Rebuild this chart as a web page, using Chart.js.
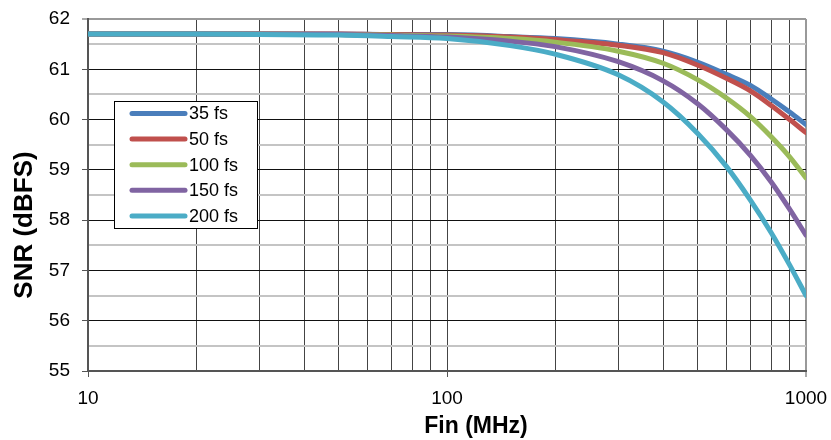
<!DOCTYPE html>
<html>
<head>
<meta charset="utf-8">
<title>SNR vs Fin</title>
<script src="https://cdn.jsdelivr.net/npm/chart.js@4.4.1/dist/chart.umd.min.js"></script>
<style>
  html, body { margin: 0; padding: 0; background: #fff; }
  #wrap { width: 831px; height: 440px; }
</style>
</head>
<body>
<div id="wrap"><canvas id="snr-chart" width="831" height="440"></canvas></div>
<script>
// input frequency (MHz)
const finMHz = [10, 20, 30, 50, 70, 100, 150, 200, 300, 400, 500, 600, 700, 800, 900, 1000];

// SNR (dBFS) per clock jitter
const snr35fs  = [61.7, 61.7, 61.7, 61.7, 61.69, 61.69, 61.65, 61.61, 61.5, 61.36, 61.14, 60.9, 60.68, 60.41, 60.15, 59.9];
const snr50fs  = [61.7, 61.7, 61.7, 61.7, 61.69, 61.68, 61.64, 61.59, 61.48, 61.33, 61.08, 60.82, 60.57, 60.28, 60.0, 59.74];
const snr100fs = [61.7, 61.7, 61.7, 61.69, 61.68, 61.66, 61.61, 61.54, 61.36, 61.12, 60.79, 60.43, 60.06, 59.66, 59.26, 58.84];
const snr150fs = [61.7, 61.7, 61.7, 61.69, 61.67, 61.64, 61.56, 61.45, 61.15, 60.77, 60.31, 59.8, 59.29, 58.76, 58.22, 57.7];
const snr200fs = [61.7, 61.7, 61.69, 61.68, 61.65, 61.61, 61.47, 61.3, 60.89, 60.35, 59.72, 59.07, 58.4, 57.75, 57.11, 56.5];

const seriesLabels = ['35 fs', '50 fs', '100 fs', '150 fs', '200 fs'];
const seriesColors = ['#4A7EBB', '#C0504D', '#9BBB59', '#8064A2', '#4BACC6'];
const seriesValues = [snr35fs, snr50fs, snr100fs, snr150fs, snr200fs];

const xTickValues = [10, 20, 30, 40, 50, 60, 70, 80, 90, 100, 200, 300, 400, 500, 600, 700, 800, 900, 1000];
const xTickLabels = [10, 100, 1000];
const yMin = 55, yMax = 62;
const xTitle = 'Fin (MHz)';
const yTitle = 'SNR (dBFS)';

const FONT = "'Liberation Sans', Arial, sans-serif";

// legend box and axis titles, placed where the original has them
const extras = {
    id: 'extras',
    afterDatasetsDraw(chart) {
        const ctx = chart.ctx;
        ctx.save();
        ctx.fillStyle = '#fff';
        ctx.fillRect(114, 101, 143, 127);
        ctx.strokeStyle = '#000';
        ctx.lineWidth = 1;
        ctx.strokeRect(114.5, 101.5, 143, 127);
        ctx.font = '18px ' + FONT;
        ctx.textBaseline = 'middle';
        ctx.lineCap = 'round';
        chart.data.datasets.forEach((ds, i) => {
            const y = 113.5 + i * 25.6;
            ctx.strokeStyle = ds.borderColor;
            ctx.lineWidth = 5;
            ctx.beginPath();
            ctx.moveTo(132, y);
            ctx.lineTo(185, y);
            ctx.stroke();
            ctx.fillStyle = '#000';
            ctx.fillText(ds.label, 189, y + 1);
        });

        ctx.fillStyle = '#000';
        ctx.textAlign = 'center';
        ctx.font = 'bold 23px ' + FONT;
        ctx.fillText(xTitle, 476, 427);

        ctx.translate(24, 225);
        ctx.rotate(-Math.PI / 2);
        ctx.font = 'bold 26px ' + FONT;
        ctx.fillText(yTitle, 0, 1);
        ctx.restore();
    }
};

const datasets = seriesLabels.map((label, i) => ({
    label: label,
    data: finMHz.map((f, j) => ({ x: f, y: seriesValues[i][j] })),
    borderColor: seriesColors[i],
    backgroundColor: seriesColors[i],
    borderWidth: 5,
    borderCapStyle: 'round',
    pointRadius: 0,
    cubicInterpolationMode: 'monotone',
    order: seriesLabels.length - i,
    fill: false
}));

new Chart(document.getElementById('snr-chart').getContext('2d'), {
    type: 'line',
    data: { datasets: datasets },
    plugins: [extras],
    options: {
        responsive: false,
        animation: false,
        layout: { padding: { left: 0, top: 19, right: 25, bottom: 0 } },
        plugins: {
            legend: { display: false },
            tooltip: { enabled: false }
        },
        scales: {
            x: {
                type: 'logarithmic',
                min: 10,
                max: 1000,
                afterBuildTicks: (scale) => {
                    scale.ticks = xTickValues.map(v => ({ value: v }));
                },
                afterFit: (scale) => {
                    scale.height = 69;
                    scale.paddingLeft = 0;
                    scale.paddingRight = 0;
                },
                ticks: {
                    autoSkip: false,
                    maxRotation: 0,
                    padding: 10,
                    color: '#000',
                    font: { family: FONT, size: 19 },
                    callback: (value) => xTickLabels.includes(value) ? String(value) : ''
                },
                grid: {
                    tickLength: 6,
                    color: (c) => c.tick && c.tick.value === 1000 ? '#999' : '#444',
                    lineWidth: (c) => c.tick && c.tick.value === 1000 ? 2 : 1,
                    tickColor: (c) => c.tick && xTickLabels.includes(c.tick.value) ? '#555' : 'rgba(0,0,0,0)',
                    tickWidth: 1
                },
                border: { display: true, color: '#555', width: 2 },
                title: { display: false }
            },
            y: {
                min: yMin,
                max: yMax,
                afterBuildTicks: (scale) => {
                    const t = [];
                    for (let v = yMin; v <= yMax + 1e-9; v += 0.5) t.push({ value: v });
                    scale.ticks = t;
                },
                afterFit: (scale) => {
                    scale.width = 88;
                    scale.paddingTop = 0;
                    scale.paddingBottom = 0;
                },
                ticks: {
                    autoSkip: false,
                    padding: 12,
                    color: '#000',
                    font: { family: FONT, size: 19 },
                    callback: (value) => Number.isInteger(value) ? String(value) : ''
                },
                grid: {
                    tickLength: 6,
                    color: (c) => {
                        const v = c.tick ? c.tick.value : 0;
                        if (v === yMax) return '#999';
                        return Number.isInteger(v) ? '#111' : '#c4c4c4';
                    },
                    lineWidth: (c) => {
                        const v = c.tick ? c.tick.value : 0;
                        if (v === yMax) return 2;
                        return Number.isInteger(v) ? 1 : 2;
                    },
                    tickColor: (c) => c.tick && Number.isInteger(c.tick.value) ? '#555' : 'rgba(0,0,0,0)',
                    tickWidth: 1
                },
                border: { display: true, color: '#555', width: 2 },
                title: { display: false }
            }
        }
    }
});
</script>
</body>
</html>
